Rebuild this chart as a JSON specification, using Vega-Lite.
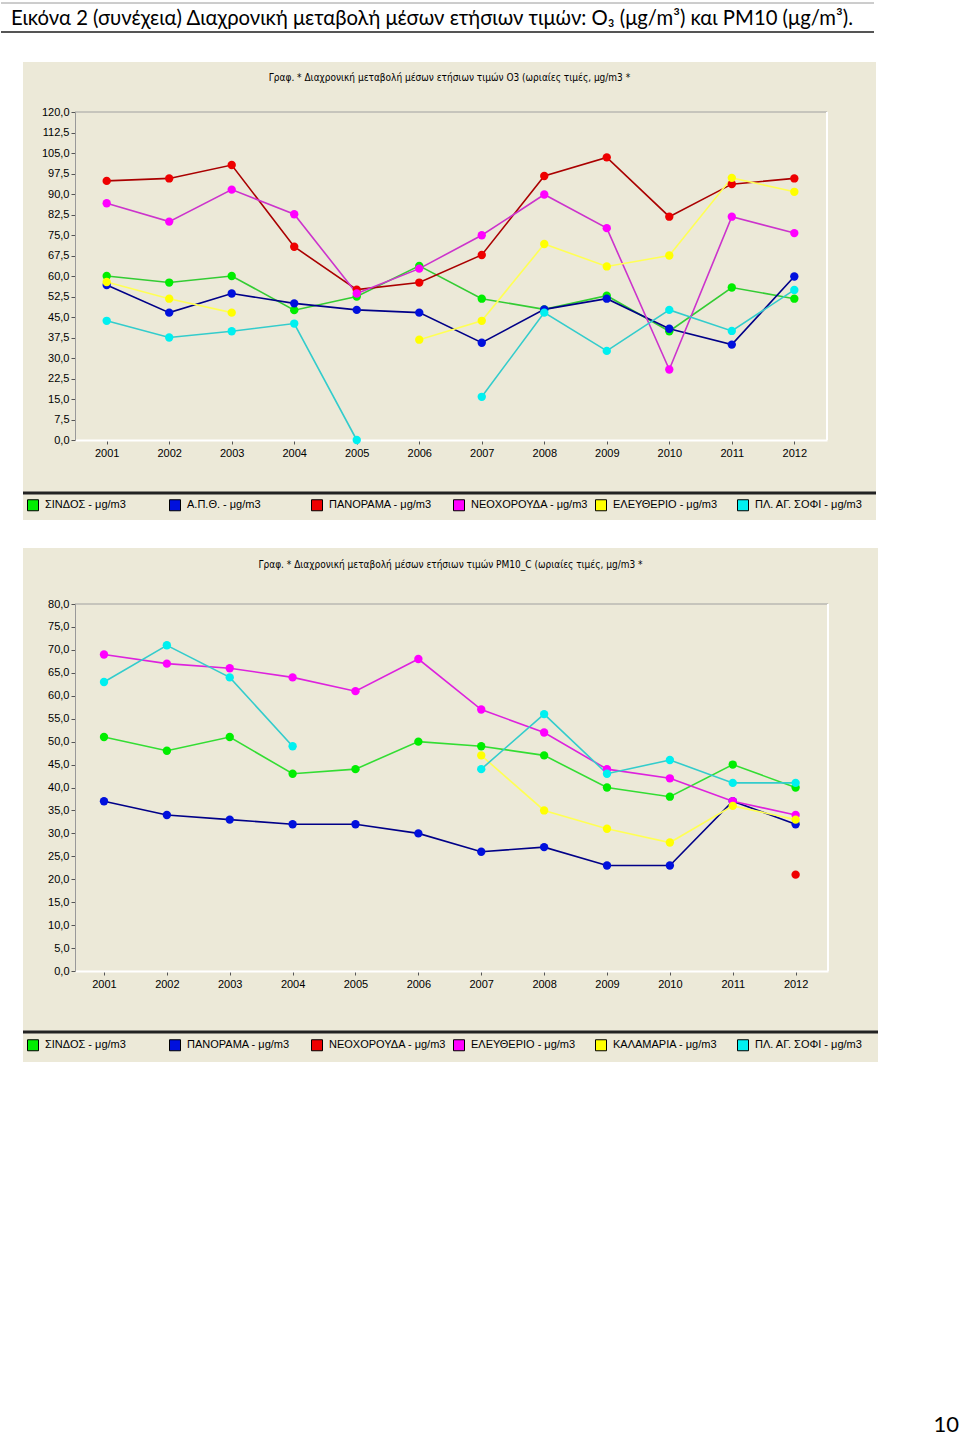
{
  "$schema": "https://vega.github.io/schema/vega-lite/v6.json",
  "padding": {"top": 2, "left": 0, "right": 0, "bottom": 0},
  "background": "white",
  "config": {"view": {"stroke": null}, "font": "Liberation Sans", "axis": {"labelOverlap": false, "labelFlush": false}},
  "datasets": {
    "hdr": [{"t": "Εικόνα 2 (συνέχεια) Διαχρονική μεταβολή μέσων ετήσιων τιμών: O₃ (μg/m³) και PM10 (μg/m³)."}],
    "o3": [
      {"year": 2001, "station": "ΣΙΝΔΟΣ", "value": 60}, {"year": 2002, "station": "ΣΙΝΔΟΣ", "value": 57.6}, {"year": 2003, "station": "ΣΙΝΔΟΣ", "value": 60}, {"year": 2004, "station": "ΣΙΝΔΟΣ", "value": 47.5}, {"year": 2005, "station": "ΣΙΝΔΟΣ", "value": 52.5}, {"year": 2006, "station": "ΣΙΝΔΟΣ", "value": 63.7}, {"year": 2007, "station": "ΣΙΝΔΟΣ", "value": 51.7}, {"year": 2008, "station": "ΣΙΝΔΟΣ", "value": 47.8}, {"year": 2009, "station": "ΣΙΝΔΟΣ", "value": 52.8}, {"year": 2010, "station": "ΣΙΝΔΟΣ", "value": 39.8}, {"year": 2011, "station": "ΣΙΝΔΟΣ", "value": 55.8}, {"year": 2012, "station": "ΣΙΝΔΟΣ", "value": 51.7},
      {"year": 2001, "station": "Α.Π.Θ.", "value": 56.7}, {"year": 2002, "station": "Α.Π.Θ.", "value": 46.6}, {"year": 2003, "station": "Α.Π.Θ.", "value": 53.6}, {"year": 2004, "station": "Α.Π.Θ.", "value": 50}, {"year": 2005, "station": "Α.Π.Θ.", "value": 47.6}, {"year": 2006, "station": "Α.Π.Θ.", "value": 46.6}, {"year": 2007, "station": "Α.Π.Θ.", "value": 35.6}, {"year": 2008, "station": "Α.Π.Θ.", "value": 47.8}, {"year": 2009, "station": "Α.Π.Θ.", "value": 51.7}, {"year": 2010, "station": "Α.Π.Θ.", "value": 40.7}, {"year": 2011, "station": "Α.Π.Θ.", "value": 34.9}, {"year": 2012, "station": "Α.Π.Θ.", "value": 59.8},
      {"year": 2001, "station": "ΠΑΝΟΡΑΜΑ", "value": 94.8}, {"year": 2002, "station": "ΠΑΝΟΡΑΜΑ", "value": 95.7}, {"year": 2003, "station": "ΠΑΝΟΡΑΜΑ", "value": 100.6}, {"year": 2004, "station": "ΠΑΝΟΡΑΜΑ", "value": 70.7}, {"year": 2005, "station": "ΠΑΝΟΡΑΜΑ", "value": 55}, {"year": 2006, "station": "ΠΑΝΟΡΑΜΑ", "value": 57.6}, {"year": 2007, "station": "ΠΑΝΟΡΑΜΑ", "value": 67.7}, {"year": 2008, "station": "ΠΑΝΟΡΑΜΑ", "value": 96.6}, {"year": 2009, "station": "ΠΑΝΟΡΑΜΑ", "value": 103.4}, {"year": 2010, "station": "ΠΑΝΟΡΑΜΑ", "value": 81.7}, {"year": 2011, "station": "ΠΑΝΟΡΑΜΑ", "value": 93.6}, {"year": 2012, "station": "ΠΑΝΟΡΑΜΑ", "value": 95.7},
      {"year": 2001, "station": "ΝΕΟΧΟΡΟΥΔΑ", "value": 86.6}, {"year": 2002, "station": "ΝΕΟΧΟΡΟΥΔΑ", "value": 79.9}, {"year": 2003, "station": "ΝΕΟΧΟΡΟΥΔΑ", "value": 91.6}, {"year": 2004, "station": "ΝΕΟΧΟΡΟΥΔΑ", "value": 82.6}, {"year": 2005, "station": "ΝΕΟΧΟΡΟΥΔΑ", "value": 53.6}, {"year": 2006, "station": "ΝΕΟΧΟΡΟΥΔΑ", "value": 62.7}, {"year": 2007, "station": "ΝΕΟΧΟΡΟΥΔΑ", "value": 74.9}, {"year": 2008, "station": "ΝΕΟΧΟΡΟΥΔΑ", "value": 89.8}, {"year": 2009, "station": "ΝΕΟΧΟΡΟΥΔΑ", "value": 77.5}, {"year": 2010, "station": "ΝΕΟΧΟΡΟΥΔΑ", "value": 25.8}, {"year": 2011, "station": "ΝΕΟΧΟΡΟΥΔΑ", "value": 81.7}, {"year": 2012, "station": "ΝΕΟΧΟΡΟΥΔΑ", "value": 75.7},
      {"year": 2001, "station": "ΕΛΕΥΘΕΡΙΟ", "value": 57.8}, {"year": 2002, "station": "ΕΛΕΥΘΕΡΙΟ", "value": 51.7}, {"year": 2003, "station": "ΕΛΕΥΘΕΡΙΟ", "value": 46.6}, {"year": 2004, "station": "ΕΛΕΥΘΕΡΙΟ", "value": null}, {"year": 2005, "station": "ΕΛΕΥΘΕΡΙΟ", "value": null}, {"year": 2006, "station": "ΕΛΕΥΘΕΡΙΟ", "value": 36.7}, {"year": 2007, "station": "ΕΛΕΥΘΕΡΙΟ", "value": 43.6}, {"year": 2008, "station": "ΕΛΕΥΘΕΡΙΟ", "value": 71.7}, {"year": 2009, "station": "ΕΛΕΥΘΕΡΙΟ", "value": 63.5}, {"year": 2010, "station": "ΕΛΕΥΘΕΡΙΟ", "value": 67.5}, {"year": 2011, "station": "ΕΛΕΥΘΕΡΙΟ", "value": 95.9}, {"year": 2012, "station": "ΕΛΕΥΘΕΡΙΟ", "value": 90.8},
      {"year": 2001, "station": "ΠΛ. ΑΓ. ΣΟΦΙ", "value": 43.6}, {"year": 2002, "station": "ΠΛ. ΑΓ. ΣΟΦΙ", "value": 37.5}, {"year": 2003, "station": "ΠΛ. ΑΓ. ΣΟΦΙ", "value": 39.8}, {"year": 2004, "station": "ΠΛ. ΑΓ. ΣΟΦΙ", "value": 42.6}, {"year": 2005, "station": "ΠΛ. ΑΓ. ΣΟΦΙ", "value": 0}, {"year": 2006, "station": "ΠΛ. ΑΓ. ΣΟΦΙ", "value": null}, {"year": 2007, "station": "ΠΛ. ΑΓ. ΣΟΦΙ", "value": 15.8}, {"year": 2008, "station": "ΠΛ. ΑΓ. ΣΟΦΙ", "value": 46.6}, {"year": 2009, "station": "ΠΛ. ΑΓ. ΣΟΦΙ", "value": 32.6}, {"year": 2010, "station": "ΠΛ. ΑΓ. ΣΟΦΙ", "value": 47.6}, {"year": 2011, "station": "ΠΛ. ΑΓ. ΣΟΦΙ", "value": 39.9}, {"year": 2012, "station": "ΠΛ. ΑΓ. ΣΟΦΙ", "value": 54.9}
    ],
    "pm": [
      {"year": 2001, "station": "ΣΙΝΔΟΣ", "value": 51}, {"year": 2002, "station": "ΣΙΝΔΟΣ", "value": 48}, {"year": 2003, "station": "ΣΙΝΔΟΣ", "value": 51}, {"year": 2004, "station": "ΣΙΝΔΟΣ", "value": 43}, {"year": 2005, "station": "ΣΙΝΔΟΣ", "value": 44}, {"year": 2006, "station": "ΣΙΝΔΟΣ", "value": 50}, {"year": 2007, "station": "ΣΙΝΔΟΣ", "value": 49}, {"year": 2008, "station": "ΣΙΝΔΟΣ", "value": 47}, {"year": 2009, "station": "ΣΙΝΔΟΣ", "value": 40}, {"year": 2010, "station": "ΣΙΝΔΟΣ", "value": 38}, {"year": 2011, "station": "ΣΙΝΔΟΣ", "value": 45}, {"year": 2012, "station": "ΣΙΝΔΟΣ", "value": 40},
      {"year": 2001, "station": "ΠΑΝΟΡΑΜΑ", "value": 37}, {"year": 2002, "station": "ΠΑΝΟΡΑΜΑ", "value": 34}, {"year": 2003, "station": "ΠΑΝΟΡΑΜΑ", "value": 33}, {"year": 2004, "station": "ΠΑΝΟΡΑΜΑ", "value": 32}, {"year": 2005, "station": "ΠΑΝΟΡΑΜΑ", "value": 32}, {"year": 2006, "station": "ΠΑΝΟΡΑΜΑ", "value": 30}, {"year": 2007, "station": "ΠΑΝΟΡΑΜΑ", "value": 26}, {"year": 2008, "station": "ΠΑΝΟΡΑΜΑ", "value": 27}, {"year": 2009, "station": "ΠΑΝΟΡΑΜΑ", "value": 23}, {"year": 2010, "station": "ΠΑΝΟΡΑΜΑ", "value": 23}, {"year": 2011, "station": "ΠΑΝΟΡΑΜΑ", "value": 37}, {"year": 2012, "station": "ΠΑΝΟΡΑΜΑ", "value": 32},
      {"year": 2012, "station": "ΝΕΟΧΟΡΟΥΔΑ", "value": 21},
      {"year": 2001, "station": "ΕΛΕΥΘΕΡΙΟ", "value": 69}, {"year": 2002, "station": "ΕΛΕΥΘΕΡΙΟ", "value": 67}, {"year": 2003, "station": "ΕΛΕΥΘΕΡΙΟ", "value": 66}, {"year": 2004, "station": "ΕΛΕΥΘΕΡΙΟ", "value": 64}, {"year": 2005, "station": "ΕΛΕΥΘΕΡΙΟ", "value": 61}, {"year": 2006, "station": "ΕΛΕΥΘΕΡΙΟ", "value": 68}, {"year": 2007, "station": "ΕΛΕΥΘΕΡΙΟ", "value": 57}, {"year": 2008, "station": "ΕΛΕΥΘΕΡΙΟ", "value": 52}, {"year": 2009, "station": "ΕΛΕΥΘΕΡΙΟ", "value": 44}, {"year": 2010, "station": "ΕΛΕΥΘΕΡΙΟ", "value": 42}, {"year": 2011, "station": "ΕΛΕΥΘΕΡΙΟ", "value": 37}, {"year": 2012, "station": "ΕΛΕΥΘΕΡΙΟ", "value": 34},
      {"year": 2007, "station": "ΚΑΛΑΜΑΡΙΑ", "value": 47}, {"year": 2008, "station": "ΚΑΛΑΜΑΡΙΑ", "value": 35}, {"year": 2009, "station": "ΚΑΛΑΜΑΡΙΑ", "value": 31}, {"year": 2010, "station": "ΚΑΛΑΜΑΡΙΑ", "value": 28}, {"year": 2011, "station": "ΚΑΛΑΜΑΡΙΑ", "value": 36}, {"year": 2012, "station": "ΚΑΛΑΜΑΡΙΑ", "value": 33},
      {"year": 2001, "station": "ΠΛ. ΑΓ. ΣΟΦΙ", "value": 63}, {"year": 2002, "station": "ΠΛ. ΑΓ. ΣΟΦΙ", "value": 71}, {"year": 2003, "station": "ΠΛ. ΑΓ. ΣΟΦΙ", "value": 64}, {"year": 2004, "station": "ΠΛ. ΑΓ. ΣΟΦΙ", "value": 49}, {"year": 2005, "station": "ΠΛ. ΑΓ. ΣΟΦΙ", "value": null}, {"year": 2006, "station": "ΠΛ. ΑΓ. ΣΟΦΙ", "value": null}, {"year": 2007, "station": "ΠΛ. ΑΓ. ΣΟΦΙ", "value": 44}, {"year": 2008, "station": "ΠΛ. ΑΓ. ΣΟΦΙ", "value": 56}, {"year": 2009, "station": "ΠΛ. ΑΓ. ΣΟΦΙ", "value": 43}, {"year": 2010, "station": "ΠΛ. ΑΓ. ΣΟΦΙ", "value": 46}, {"year": 2011, "station": "ΠΛ. ΑΓ. ΣΟΦΙ", "value": 41}, {"year": 2012, "station": "ΠΛ. ΑΓ. ΣΟΦΙ", "value": 41}
    ]
  },
  "spacing": 28,
  "resolve": {"scale": {"color": "independent", "x": "independent", "y": "independent"}, "legend": {"color": "independent"}},
  "vconcat": [
    {
      "width": 873, "height": 29,
      "data": {"name": "hdr"},
      "layer": [
        {"mark": {"type": "rule", "color": "#9a9a9a", "strokeWidth": 1}, "encoding": {"y": {"datum": 1, "type": "quantitative", "scale": {"domain": [0, 1]}, "axis": null}}},
        {"mark": {"type": "rule", "color": "#555555", "strokeWidth": 2}, "encoding": {"y": {"datum": 0, "type": "quantitative", "scale": {"domain": [0, 1]}, "axis": null}}},
        {"mark": {"type": "text", "align": "left", "baseline": "middle", "font": "Lato", "fontSize": 20.3, "color": "#000000"},
         "encoding": {"text": {"field": "t"}, "x": {"datum": 0.0115, "type": "quantitative", "scale": {"domain": [0, 1]}, "axis": null}, "y": {"datum": 0.45, "type": "quantitative", "scale": {"domain": [0, 1]}, "axis": null}}}
      ]
    },
    {
      "spacing": 17,
      "resolve": {"scale": {"color": "independent", "x": "independent", "y": "independent"}, "legend": {"color": "independent"}},
      "hconcat": [
        {"width": 3, "height": 10, "data": {"values": [{}]}, "mark": {"type": "rule", "opacity": 0}, "encoding": {}},
        {
          "spacing": 28,
          "resolve": {"scale": {"color": "independent", "x": "independent", "y": "independent"}, "legend": {"color": "independent"}},
          "vconcat": [
            {
              "width": 853, "height": 458,
              "view": {"fill": "#ECE9D8", "stroke": null},
              "title": {"text": "Γραφ. * Διαχρονική μεταβολή μέσων ετήσιων τιμών O3 (ωριαίες τιμές, μg/m3 *", "orient": "top", "anchor": "middle", "frame": "group", "offset": -21, "font": "Liberation Sans Narrow, DejaVu Sans Condensed, sans-serif", "fontSize": 10, "fontWeight": "normal", "color": "#000000"},
              "data": {"name": "o3"},
              "resolve": {"scale": {"color": "independent"}, "legend": {"color": "independent"}},
              "layer": [
                {"data": {"values": [{}]}, "mark": {"type": "rule", "color": "#a0a0a0", "strokeWidth": 1},
                 "encoding": {
                   "x": {"datum": 2000.493, "type": "quantitative", "title": null, "scale": {"domain": [2000.493, 2012.523], "range": [52, 804], "zero": false},
                         "axis": {"values": [2001, 2002, 2003, 2004, 2005, 2006, 2007, 2008, 2009, 2010, 2011, 2012], "format": "d", "offset": -80, "grid": false, "domainColor": "#ffffff", "domainWidth": 2, "tickColor": "#555555", "tickSize": 4, "labelFont": "Liberation Sans", "labelFontSize": 11, "labelColor": "#000000", "labelPadding": 3, "labelFlush": false, "labelOverlap": false}},
                   "x2": {"datum": 2012.523},
                   "y": {"datum": 120, "type": "quantitative", "title": null, "scale": {"domain": [0, 120], "range": [378, 50], "zero": false},
                         "axis": {"values": [0, 7.5, 15, 22.5, 30, 37.5, 45, 52.5, 60, 67.5, 75, 82.5, 90, 97.5, 105, 112.5, 120], "labelExpr": "replace(format(datum.value, '.1f'), '.', ',')", "offset": -52, "grid": false, "domainColor": "#999999", "tickColor": "#555555", "tickSize": 4, "labelFont": "Liberation Sans", "labelFontSize": 11, "labelColor": "#000000", "labelPadding": 2, "labelFlush": false, "labelOverlap": false}}
                 }},
                {"data": {"values": [{}]}, "mark": {"type": "rule", "color": "#ffffff", "strokeWidth": 2},
                 "encoding": {
                   "x": {"datum": 2012.523, "type": "quantitative", "title": null, "scale": {"domain": [2000.493, 2012.523], "range": [52, 804], "zero": false},
                         "axis": {"values": [2001, 2002, 2003, 2004, 2005, 2006, 2007, 2008, 2009, 2010, 2011, 2012], "format": "d", "offset": -80, "grid": false, "domainColor": "#ffffff", "domainWidth": 2, "tickColor": "#555555", "tickSize": 4, "labelFont": "Liberation Sans", "labelFontSize": 11, "labelColor": "#000000", "labelPadding": 3, "labelFlush": false, "labelOverlap": false}},
                   "y": {"datum": 0, "type": "quantitative", "title": null, "scale": {"domain": [0, 120], "range": [378, 50], "zero": false},
                         "axis": {"values": [0, 7.5, 15, 22.5, 30, 37.5, 45, 52.5, 60, 67.5, 75, 82.5, 90, 97.5, 105, 112.5, 120], "labelExpr": "replace(format(datum.value, '.1f'), '.', ',')", "offset": -52, "grid": false, "domainColor": "#999999", "tickColor": "#555555", "tickSize": 4, "labelFont": "Liberation Sans", "labelFontSize": 11, "labelColor": "#000000", "labelPadding": 2, "labelFlush": false, "labelOverlap": false}},
                   "y2": {"datum": 120}
                 }},
                {"data": {"values": [{}]}, "mark": {"type": "rule", "color": "#222222", "strokeWidth": 3},
                 "encoding": {"y": {"datum": -19.4, "type": "quantitative", "title": null, "scale": {"domain": [0, 120], "range": [378, 50], "zero": false},
                         "axis": {"values": [0, 7.5, 15, 22.5, 30, 37.5, 45, 52.5, 60, 67.5, 75, 82.5, 90, 97.5, 105, 112.5, 120], "labelExpr": "replace(format(datum.value, '.1f'), '.', ',')", "offset": -52, "grid": false, "domainColor": "#999999", "tickColor": "#555555", "tickSize": 4, "labelFont": "Liberation Sans", "labelFontSize": 11, "labelColor": "#000000", "labelPadding": 2, "labelFlush": false, "labelOverlap": false}}}},
                {"mark": {"type": "line", "strokeWidth": 1.6, "invalid": "break-paths-show-domains"},
                 "encoding": {
                   "x": {"field": "year", "type": "quantitative", "title": null, "scale": {"domain": [2000.493, 2012.523], "range": [52, 804], "zero": false},
                         "axis": {"values": [2001, 2002, 2003, 2004, 2005, 2006, 2007, 2008, 2009, 2010, 2011, 2012], "format": "d", "offset": -80, "grid": false, "domainColor": "#ffffff", "domainWidth": 2, "tickColor": "#555555", "tickSize": 4, "labelFont": "Liberation Sans", "labelFontSize": 11, "labelColor": "#000000", "labelPadding": 3, "labelFlush": false, "labelOverlap": false}},
                   "y": {"field": "value", "type": "quantitative", "title": null, "scale": {"domain": [0, 120], "range": [378, 50], "zero": false},
                         "axis": {"values": [0, 7.5, 15, 22.5, 30, 37.5, 45, 52.5, 60, 67.5, 75, 82.5, 90, 97.5, 105, 112.5, 120], "labelExpr": "replace(format(datum.value, '.1f'), '.', ',')", "offset": -52, "grid": false, "domainColor": "#999999", "tickColor": "#555555", "tickSize": 4, "labelFont": "Liberation Sans", "labelFontSize": 11, "labelColor": "#000000", "labelPadding": 2, "labelFlush": false, "labelOverlap": false}},
                   "color": {"field": "station", "type": "nominal", "legend": null,
                             "scale": {"domain": ["ΣΙΝΔΟΣ", "Α.Π.Θ.", "ΠΑΝΟΡΑΜΑ", "ΝΕΟΧΟΡΟΥΔΑ", "ΕΛΕΥΘΕΡΙΟ", "ΠΛ. ΑΓ. ΣΟΦΙ"], "range": ["#33CC33", "#000088", "#AA0000", "#CC33CC", "#FFFF55", "#33CCCC"]}}
                 }},
                {"mark": {"type": "point", "filled": true, "size": 70, "opacity": 1, "shape": "circle"},
                 "encoding": {
                   "x": {"field": "year", "type": "quantitative", "title": null, "scale": {"domain": [2000.493, 2012.523], "range": [52, 804], "zero": false},
                         "axis": {"values": [2001, 2002, 2003, 2004, 2005, 2006, 2007, 2008, 2009, 2010, 2011, 2012], "format": "d", "offset": -80, "grid": false, "domainColor": "#ffffff", "domainWidth": 2, "tickColor": "#555555", "tickSize": 4, "labelFont": "Liberation Sans", "labelFontSize": 11, "labelColor": "#000000", "labelPadding": 3, "labelFlush": false, "labelOverlap": false}},
                   "y": {"field": "value", "type": "quantitative", "title": null, "scale": {"domain": [0, 120], "range": [378, 50], "zero": false},
                         "axis": {"values": [0, 7.5, 15, 22.5, 30, 37.5, 45, 52.5, 60, 67.5, 75, 82.5, 90, 97.5, 105, 112.5, 120], "labelExpr": "replace(format(datum.value, '.1f'), '.', ',')", "offset": -52, "grid": false, "domainColor": "#999999", "tickColor": "#555555", "tickSize": 4, "labelFont": "Liberation Sans", "labelFontSize": 11, "labelColor": "#000000", "labelPadding": 2, "labelFlush": false, "labelOverlap": false}},
                   "color": {"field": "station", "type": "nominal",
                             "scale": {"domain": ["ΣΙΝΔΟΣ", "Α.Π.Θ.", "ΠΑΝΟΡΑΜΑ", "ΝΕΟΧΟΡΟΥΔΑ", "ΕΛΕΥΘΕΡΙΟ", "ΠΛ. ΑΓ. ΣΟΦΙ"], "range": ["#00EE00", "#0010DD", "#EE0000", "#FF00FF", "#FFFF00", "#00F0F0"]},
                             "legend": {"orient": "none", "legendX": 4, "legendY": 437, "direction": "horizontal", "columns": 6, "gridAlign": "all", "columnPadding": 4, "title": null, "symbolType": "square", "symbolSize": 121, "symbolStrokeColor": "#000000", "symbolStrokeWidth": 1, "symbolOpacity": 1, "labelFont": "Liberation Sans", "labelFontSize": 11, "labelColor": "#000000", "labelOffset": 6, "labelLimit": 250, "labelExpr": "datum.label + ' - μg/m3'"}}
                 }}
              ]
            },
            {
              "width": 855, "height": 514,
              "view": {"fill": "#ECE9D8", "stroke": null},
              "title": {"text": "Γραφ. * Διαχρονική μεταβολή μέσων ετήσιων τιμών PM10_C (ωριαίες τιμές, μg/m3 *", "orient": "top", "anchor": "middle", "frame": "group", "offset": -22, "font": "Liberation Sans Narrow, DejaVu Sans Condensed, sans-serif", "fontSize": 10, "fontWeight": "normal", "color": "#000000"},
              "data": {"name": "pm"},
              "resolve": {"scale": {"color": "independent"}, "legend": {"color": "independent"}},
              "layer": [
                {"data": {"values": [{}]}, "mark": {"type": "rule", "color": "#a0a0a0", "strokeWidth": 1},
                 "encoding": {
                   "x": {"datum": 2000.539, "type": "quantitative", "title": null, "scale": {"domain": [2000.539, 2012.515], "range": [52, 805], "zero": false},
                         "axis": {"values": [2001, 2002, 2003, 2004, 2005, 2006, 2007, 2008, 2009, 2010, 2011, 2012], "format": "d", "offset": -91, "grid": false, "domainColor": "#ffffff", "domainWidth": 2, "tickColor": "#555555", "tickSize": 4, "labelFont": "Liberation Sans", "labelFontSize": 11, "labelColor": "#000000", "labelPadding": 3, "labelFlush": false, "labelOverlap": false}},
                   "x2": {"datum": 2012.515},
                   "y": {"datum": 80, "type": "quantitative", "title": null, "scale": {"domain": [0, 80], "range": [423, 56], "zero": false},
                         "axis": {"values": [0, 5, 10, 15, 20, 25, 30, 35, 40, 45, 50, 55, 60, 65, 70, 75, 80], "labelExpr": "replace(format(datum.value, '.1f'), '.', ',')", "offset": -52, "grid": false, "domainColor": "#999999", "tickColor": "#555555", "tickSize": 4, "labelFont": "Liberation Sans", "labelFontSize": 11, "labelColor": "#000000", "labelPadding": 2, "labelFlush": false, "labelOverlap": false}}
                 }},
                {"data": {"values": [{}]}, "mark": {"type": "rule", "color": "#ffffff", "strokeWidth": 2},
                 "encoding": {
                   "x": {"datum": 2012.515, "type": "quantitative", "title": null, "scale": {"domain": [2000.539, 2012.515], "range": [52, 805], "zero": false},
                         "axis": {"values": [2001, 2002, 2003, 2004, 2005, 2006, 2007, 2008, 2009, 2010, 2011, 2012], "format": "d", "offset": -91, "grid": false, "domainColor": "#ffffff", "domainWidth": 2, "tickColor": "#555555", "tickSize": 4, "labelFont": "Liberation Sans", "labelFontSize": 11, "labelColor": "#000000", "labelPadding": 3, "labelFlush": false, "labelOverlap": false}},
                   "y": {"datum": 0, "type": "quantitative", "title": null, "scale": {"domain": [0, 80], "range": [423, 56], "zero": false},
                         "axis": {"values": [0, 5, 10, 15, 20, 25, 30, 35, 40, 45, 50, 55, 60, 65, 70, 75, 80], "labelExpr": "replace(format(datum.value, '.1f'), '.', ',')", "offset": -52, "grid": false, "domainColor": "#999999", "tickColor": "#555555", "tickSize": 4, "labelFont": "Liberation Sans", "labelFontSize": 11, "labelColor": "#000000", "labelPadding": 2, "labelFlush": false, "labelOverlap": false}},
                   "y2": {"datum": 80}
                 }},
                {"data": {"values": [{}]}, "mark": {"type": "rule", "color": "#222222", "strokeWidth": 3},
                 "encoding": {"y": {"datum": -13.3, "type": "quantitative", "title": null, "scale": {"domain": [0, 80], "range": [423, 56], "zero": false},
                         "axis": {"values": [0, 5, 10, 15, 20, 25, 30, 35, 40, 45, 50, 55, 60, 65, 70, 75, 80], "labelExpr": "replace(format(datum.value, '.1f'), '.', ',')", "offset": -52, "grid": false, "domainColor": "#999999", "tickColor": "#555555", "tickSize": 4, "labelFont": "Liberation Sans", "labelFontSize": 11, "labelColor": "#000000", "labelPadding": 2, "labelFlush": false, "labelOverlap": false}}}},
                {"mark": {"type": "line", "strokeWidth": 1.6, "invalid": "break-paths-show-domains"},
                 "encoding": {
                   "x": {"field": "year", "type": "quantitative", "title": null, "scale": {"domain": [2000.539, 2012.515], "range": [52, 805], "zero": false},
                         "axis": {"values": [2001, 2002, 2003, 2004, 2005, 2006, 2007, 2008, 2009, 2010, 2011, 2012], "format": "d", "offset": -91, "grid": false, "domainColor": "#ffffff", "domainWidth": 2, "tickColor": "#555555", "tickSize": 4, "labelFont": "Liberation Sans", "labelFontSize": 11, "labelColor": "#000000", "labelPadding": 3, "labelFlush": false, "labelOverlap": false}},
                   "y": {"field": "value", "type": "quantitative", "title": null, "scale": {"domain": [0, 80], "range": [423, 56], "zero": false},
                         "axis": {"values": [0, 5, 10, 15, 20, 25, 30, 35, 40, 45, 50, 55, 60, 65, 70, 75, 80], "labelExpr": "replace(format(datum.value, '.1f'), '.', ',')", "offset": -52, "grid": false, "domainColor": "#999999", "tickColor": "#555555", "tickSize": 4, "labelFont": "Liberation Sans", "labelFontSize": 11, "labelColor": "#000000", "labelPadding": 2, "labelFlush": false, "labelOverlap": false}},
                   "color": {"field": "station", "type": "nominal", "legend": null,
                             "scale": {"domain": ["ΣΙΝΔΟΣ", "ΠΑΝΟΡΑΜΑ", "ΝΕΟΧΟΡΟΥΔΑ", "ΕΛΕΥΘΕΡΙΟ", "ΚΑΛΑΜΑΡΙΑ", "ΠΛ. ΑΓ. ΣΟΦΙ"], "range": ["#33DD33", "#000088", "#AA0000", "#DD22DD", "#FFFF55", "#33CCCC"]}}
                 }},
                {"mark": {"type": "point", "filled": true, "size": 70, "opacity": 1, "shape": "circle"},
                 "encoding": {
                   "x": {"field": "year", "type": "quantitative", "title": null, "scale": {"domain": [2000.539, 2012.515], "range": [52, 805], "zero": false},
                         "axis": {"values": [2001, 2002, 2003, 2004, 2005, 2006, 2007, 2008, 2009, 2010, 2011, 2012], "format": "d", "offset": -91, "grid": false, "domainColor": "#ffffff", "domainWidth": 2, "tickColor": "#555555", "tickSize": 4, "labelFont": "Liberation Sans", "labelFontSize": 11, "labelColor": "#000000", "labelPadding": 3, "labelFlush": false, "labelOverlap": false}},
                   "y": {"field": "value", "type": "quantitative", "title": null, "scale": {"domain": [0, 80], "range": [423, 56], "zero": false},
                         "axis": {"values": [0, 5, 10, 15, 20, 25, 30, 35, 40, 45, 50, 55, 60, 65, 70, 75, 80], "labelExpr": "replace(format(datum.value, '.1f'), '.', ',')", "offset": -52, "grid": false, "domainColor": "#999999", "tickColor": "#555555", "tickSize": 4, "labelFont": "Liberation Sans", "labelFontSize": 11, "labelColor": "#000000", "labelPadding": 2, "labelFlush": false, "labelOverlap": false}},
                   "color": {"field": "station", "type": "nominal",
                             "scale": {"domain": ["ΣΙΝΔΟΣ", "ΠΑΝΟΡΑΜΑ", "ΝΕΟΧΟΡΟΥΔΑ", "ΕΛΕΥΘΕΡΙΟ", "ΚΑΛΑΜΑΡΙΑ", "ΠΛ. ΑΓ. ΣΟΦΙ"], "range": ["#00EE00", "#0010DD", "#EE0000", "#FF00FF", "#FFFF00", "#00F0F0"]},
                             "legend": {"orient": "none", "legendX": 4, "legendY": 491, "direction": "horizontal", "columns": 6, "gridAlign": "all", "columnPadding": 4, "title": null, "symbolType": "square", "symbolSize": 121, "symbolStrokeColor": "#000000", "symbolStrokeWidth": 1, "symbolOpacity": 1, "labelFont": "Liberation Sans", "labelFontSize": 11, "labelColor": "#000000", "labelOffset": 6, "labelLimit": 250, "labelExpr": "datum.label + ' - μg/m3'"}}
                 }}
              ]
            }
          ]
        }
      ]
    },
    {
      "width": 958, "height": 320,
      "data": {"values": [{}]},
      "mark": {"type": "rule", "opacity": 0},
      "encoding": {},
      "title": {"text": "10", "orient": "bottom", "anchor": "end", "frame": "group", "offset": 4, "font": "Lato", "fontSize": 22, "fontWeight": "normal", "color": "#000000"}
    }
  ]
}
